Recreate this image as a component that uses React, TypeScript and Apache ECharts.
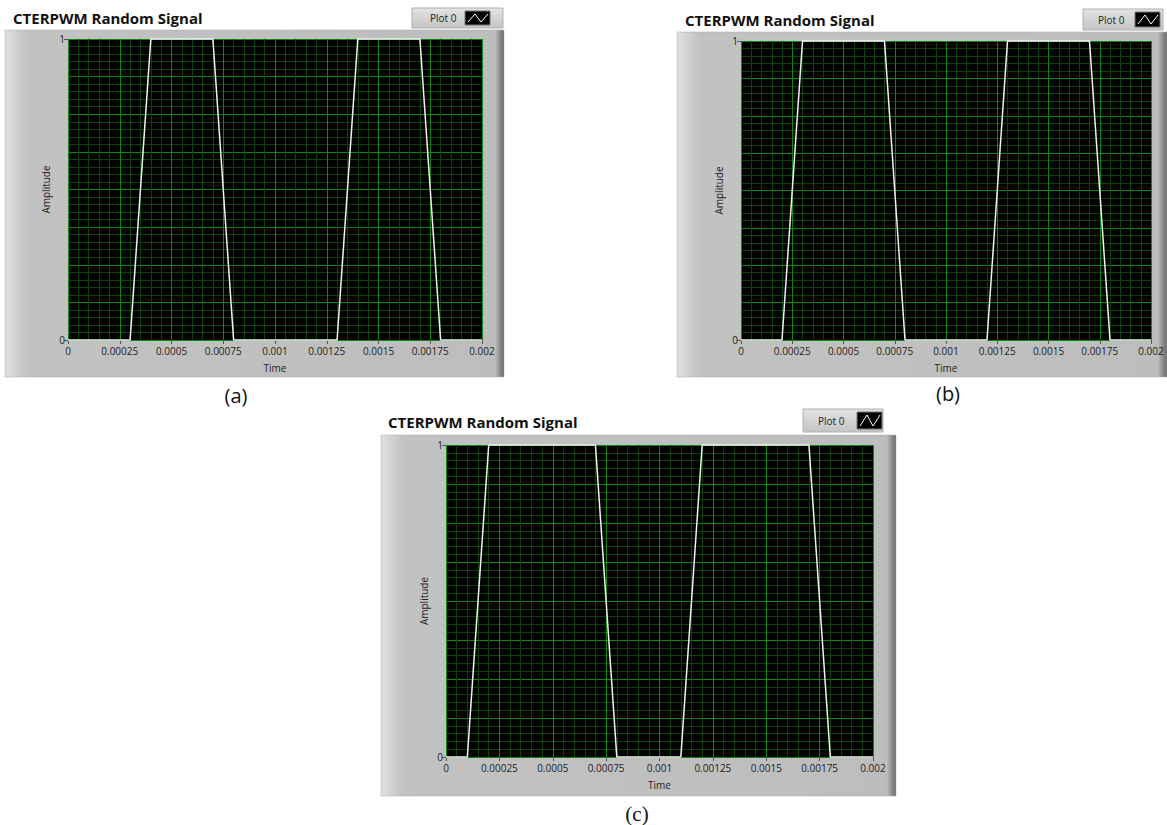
import React, { useEffect, useRef } from "react";
import * as echarts from "echarts";

// ---- data ----
const titleText = "CTERPWM Random Signal";
const legendText = "Plot 0";
const xTicks = [0, 0.00025, 0.0005, 0.00075, 0.001, 0.00125, 0.0015, 0.00175, 0.002];
const yTicks = [0, 1];
const yMajorStep = 0.125;
const minorPerMajor = 5;
const timeA = [0, 0.0003, 0.0004, 0.0007, 0.0008, 0.0013, 0.0014, 0.0017, 0.0018, 0.002];
const ampA = [0, 0, 1, 1, 0, 0, 1, 1, 0, 0];
const timeB = [0, 0.0002, 0.0003, 0.0007, 0.0008, 0.0012, 0.0013, 0.0017, 0.0018, 0.002];
const ampB = [0, 0, 1, 1, 0, 0, 1, 1, 0, 0];
const timeC = [0, 0.0001, 0.0002, 0.0007, 0.0008, 0.0011, 0.0012, 0.0017, 0.0018, 0.002];
const ampC = [0, 0, 1, 1, 0, 0, 1, 1, 0, 0];
const captions = ["(a)", "(b)", "(c)"];

// ---- layout ----
const panels = [
  {
    grid: { left: 68, top: 39, width: 414, height: 301 },
    box: { x: 5, y: 30, w: 499, h: 347 },
    title: { x: 13, y: 18 },
    legend: { x: 412, y: 8, w: 91, h: 20, tx: 430, ix: 465 },
    caption: { x: 236, y: 395, font: "20px 'Open Sans', sans-serif" },
    time: timeA,
    amp: ampA,
  },
  {
    grid: { left: 741, top: 41, width: 410, height: 299 },
    box: { x: 677, y: 32, w: 490, h: 345 },
    title: { x: 685, y: 20 },
    legend: { x: 1083, y: 9, w: 80, h: 21, tx: 1098, ix: 1135 },
    caption: { x: 948, y: 393, font: "20px 'Open Sans', sans-serif" },
    time: timeB,
    amp: ampB,
  },
  {
    grid: { left: 446, top: 445, width: 427, height: 312 },
    box: { x: 381, y: 435, w: 515, h: 361 },
    title: { x: 388, y: 422 },
    legend: { x: 803, y: 409, w: 80, h: 23, tx: 818, ix: 857 },
    caption: { x: 637, y: 814, font: "21px 'Liberation Serif', serif" },
    time: timeC,
    amp: ampC,
  },
];

const FONT = "'Open Sans', 'Noto Sans', sans-serif";
const MAJOR = "#0a8a0a";
const MINOR = "#0a420a";

function fmt(v: number) {
  return String(+v.toFixed(6));
}

export default function App() {
  const ref = useRef<HTMLDivElement>(null);

  useEffect(() => {
    if (!ref.current) return;
    const chart = echarts.init(ref.current, null, { renderer: "svg" });

    const grid: any[] = [];
    const xAxis: any[] = [];
    const yAxis: any[] = [];
    const series: any[] = [];
    const graphic: any[] = [];

    panels.forEach((p, i) => {
      grid.push({
        ...p.grid,
        show: true,
        backgroundColor: "#000",
        borderWidth: 0,
        containLabel: false,
      });
      xAxis.push({
        type: "value",
        gridIndex: i,
        min: xTicks[0],
        max: xTicks[xTicks.length - 1],
        interval: xTicks[1] - xTicks[0],
        axisLine: { show: false },
        axisTick: { show: true, length: 4, lineStyle: { color: "#555" } },
        axisLabel: { fontSize: 10, color: "#222", margin: 6, fontFamily: FONT, formatter: (v: number) => fmt(v) },
        splitLine: { show: true, lineStyle: { color: MAJOR, width: 1 } },
        minorTick: { show: false, splitNumber: minorPerMajor },
        minorSplitLine: { show: true, lineStyle: { color: MINOR, width: 1 } },
        name: "Time",
        nameLocation: "middle",
        nameGap: 23,
        nameTextStyle: { fontSize: 10, color: "#222", fontFamily: FONT },
      });
      // labelled y axis: ticks only at 0 and 1
      yAxis.push({
        type: "value",
        gridIndex: i,
        min: yTicks[0],
        max: yTicks[1],
        interval: yTicks[1] - yTicks[0],
        position: "left",
        axisLine: { show: false },
        axisTick: { show: true, length: 4, lineStyle: { color: "#555" } },
        axisLabel: { fontSize: 10, color: "#222", margin: 3, fontFamily: FONT },
        splitLine: { show: false },
        name: "Amplitude",
        nameLocation: "middle",
        nameGap: 17,
        nameRotate: 90,
        nameTextStyle: { fontSize: 10, color: "#222", fontFamily: FONT },
      });
      // grid-only y axis
      yAxis.push({
        type: "value",
        gridIndex: i,
        min: yTicks[0],
        max: yTicks[1],
        interval: yMajorStep,
        position: "left",
        axisLine: { show: false },
        axisTick: { show: false },
        axisLabel: { show: false },
        splitLine: { show: true, lineStyle: { color: MAJOR, width: 1 } },
        minorTick: { show: false, splitNumber: minorPerMajor },
        minorSplitLine: { show: true, lineStyle: { color: MINOR, width: 1 } },
      });
      series.push({
        type: "line",
        xAxisIndex: i,
        yAxisIndex: i * 2,
        data: p.time.map((t, k) => [t, p.amp[k]]),
        symbol: "none",
        showSymbol: false,
        clip: false,
        lineStyle: { color: "#f2f2f2", width: 1.5 },
        z: 5,
      });

      const b = p.box;
      graphic.push({
        type: "rect",
        z: -10,
        shape: { x: b.x, y: b.y, width: b.w, height: b.h },
        style: {
          fill: new echarts.graphic.LinearGradient(0, 0, 1, 0, [
            { offset: 0, color: "#e2e2e2" },
            { offset: 12 / b.w, color: "#d0d0d0" },
            { offset: 22 / b.w, color: "#c2c2c2" },
            { offset: 1 - 9 / b.w, color: "#bdbdbd" },
            { offset: 1 - 4 / b.w, color: "#8c8c8c" },
            { offset: 1, color: "#6a6a6a" },
          ]),
          stroke: "#a8a8a8",
          lineWidth: 0.5,
        },
      });
      graphic.push({
        type: "text",
        z: 10,
        x: p.title.x,
        y: p.title.y,
        style: {
          text: titleText,
          font: `bold 15px ${FONT}`,
          fill: "#111",
          textVerticalAlign: "middle",
          verticalAlign: "middle",
        },
      });
      const l = p.legend;
      graphic.push({
        type: "rect",
        z: 10,
        shape: { x: l.x, y: l.y, width: l.w, height: l.h },
        style: {
          fill: new echarts.graphic.LinearGradient(0, 0, 0, 1, [
            { offset: 0, color: "#e4e4e4" },
            { offset: 1, color: "#c4c4c4" },
          ]),
          stroke: "#b0b0b0",
          lineWidth: 1,
        },
      });
      graphic.push({
        type: "text",
        z: 11,
        x: l.tx,
        y: l.y + l.h / 2,
        style: {
          text: legendText,
          font: `10px ${FONT}`,
          fill: "#222",
          textVerticalAlign: "middle",
          verticalAlign: "middle",
        },
      });
      const iy = l.y + 3;
      const ih = l.h - 6;
      graphic.push({
        type: "rect",
        z: 11,
        shape: { x: l.ix, y: iy, width: 25, height: ih },
        style: { fill: "#000", stroke: "#777", lineWidth: 1 },
      });
      graphic.push({
        type: "polyline",
        z: 12,
        shape: {
          points: [
            [l.ix + 3, iy + ih - 3],
            [l.ix + 10, iy + 3],
            [l.ix + 16, iy + ih - 3],
            [l.ix + 23, iy + 3],
          ],
        },
        style: { stroke: "#fff", lineWidth: 1, fill: null },
      });
      graphic.push({
        type: "text",
        z: 10,
        x: p.caption.x,
        y: p.caption.y,
        style: {
          text: captions[i],
          font: p.caption.font,
          fill: "#111",
          textAlign: "center",
          align: "center",
          textVerticalAlign: "middle",
          verticalAlign: "middle",
        },
      });
    });

    chart.setOption({
      animation: false,
      backgroundColor: "#fff",
      grid,
      xAxis,
      yAxis,
      series,
      graphic,
    });

    return () => chart.dispose();
  }, []);

  return (
    <div
      ref={ref}
      style={{ position: "absolute", left: 0, top: 0, width: 1167, height: 825 }}
    />
  );
}
